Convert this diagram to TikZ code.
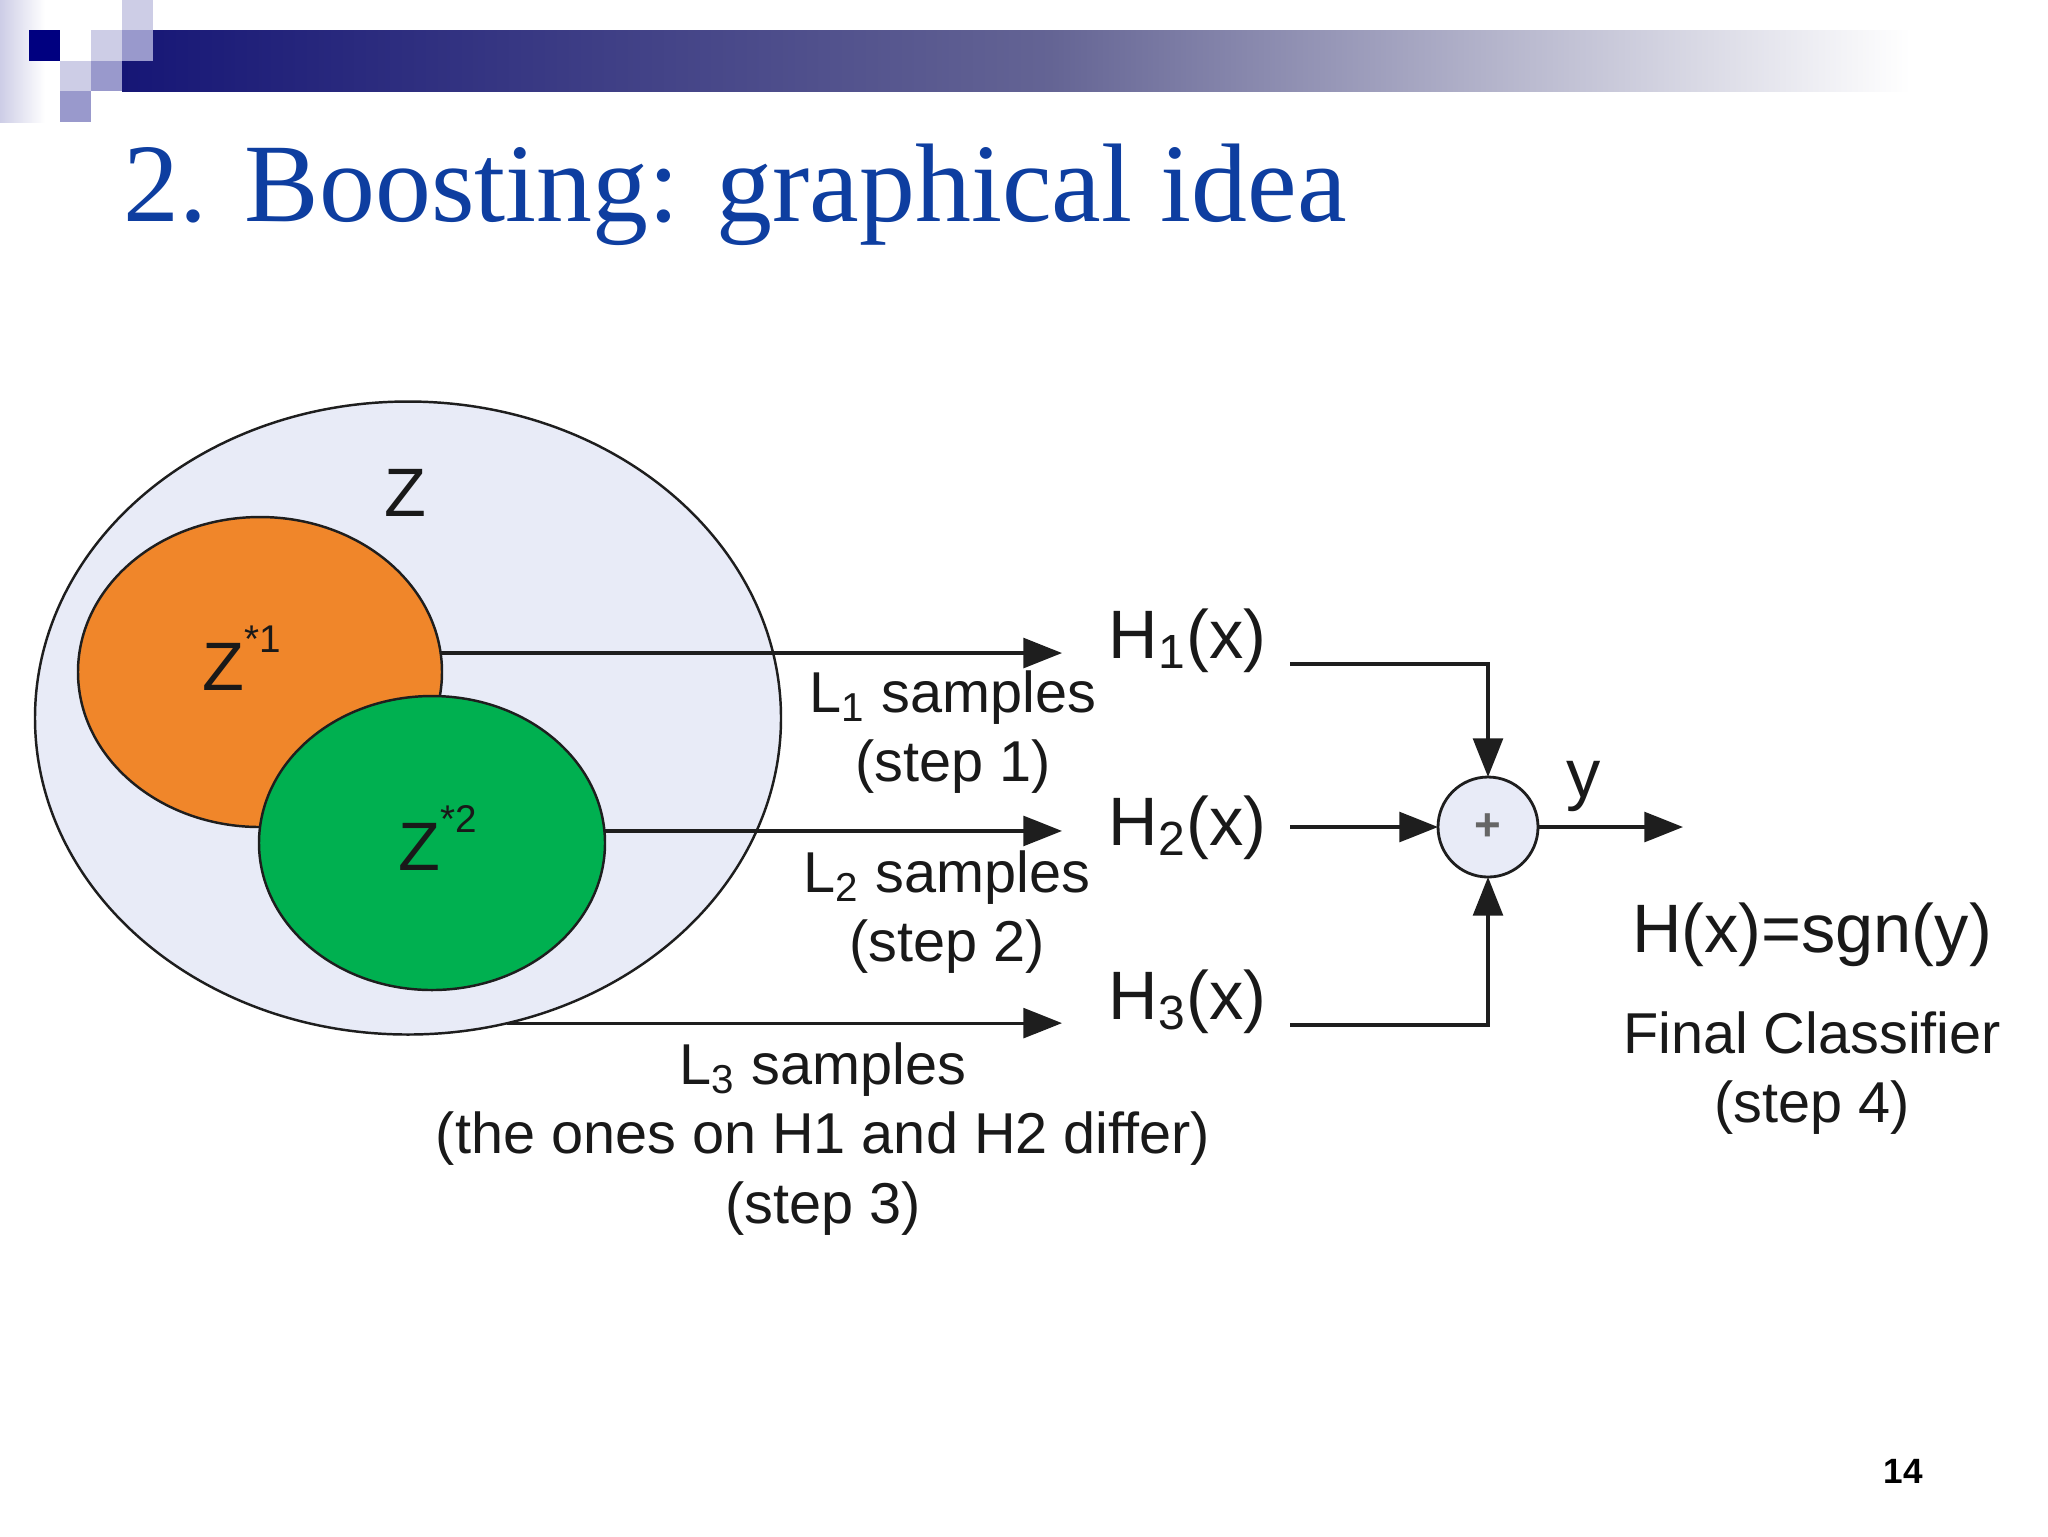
\documentclass[tikz,border=0pt]{standalone}
\usepackage{fontspec}
\setmainfont{Liberation Sans}
\newfontfamily\titlefont{Liberation Serif}
\usepackage{tikz}
\usetikzlibrary{arrows.meta,shapes,positioning}
\usepackage{xcolor}
\definecolor{bnavy}{RGB}{0,0,128}
\definecolor{bbarmid}{RGB}{100,100,148}
\definecolor{bbarleft}{RGB}{22,22,118}
\definecolor{blight}{RGB}{205,205,230}
\definecolor{bmedium}{RGB}{153,153,204}
\definecolor{btitle}{RGB}{14,62,160}
\definecolor{blavender}{RGB}{232,235,247}
\definecolor{borange}{RGB}{240,134,42}
\definecolor{bgreen}{RGB}{0,176,80}
\definecolor{bline}{RGB}{30,30,30}
\definecolor{btext}{RGB}{25,25,25}
\newcommand{\zsup}[1]{\raisebox{0.55em}{\fontsize{11}{11}\selectfont #1}}
\tikzstyle{region} = [ellipse, draw=bline, line width=0.7pt, inner sep=0pt, outer sep=0pt]
\tikzstyle{sumnode} = [circle, draw=bline, fill=blavender, line width=0.8pt, minimum size=10mm, inner sep=0pt, outer sep=0pt]
\tikzstyle{arrow} = [line width=0.9pt, draw=bline, -{Triangle[length=11pt,width=8.5pt]}]
\tikzstyle{hlabel} = [font=\fontsize{19.5}{23}\selectfont, text=btext, inner sep=0pt]
\tikzstyle{steptext} = [font=\fontsize{16.4}{19.8}\selectfont, text=btext, align=center, inner sep=0pt]

\begin{document}
\begin{tikzpicture}[x=0.1mm,y=-0.1mm]
\fill[white] (0,0) rectangle (2048,1536);
\useasboundingbox (0,0) rectangle (2048,1536);

% Slide decoration
\shade[left color=blight, right color=white] (0,0) rectangle (45,122);
\shade[left color=bbarleft, right color=bbarmid] (122,30) rectangle (1050,91);
\shade[left color=bbarmid, right color=white] (1050,30) rectangle (1910,91);
\fill[bnavy] (29,30) rectangle (60,61);
\fill[blight] (122,0) rectangle (153,30);
\fill[blight] (91,30) rectangle (122,61);
\fill[blight] (60,61) rectangle (91,91);
\fill[bmedium] (122,30) rectangle (153,61);
\fill[bmedium] (91,61) rectangle (122,91);
\fill[bmedium] (60,91) rectangle (91,122);

% Title
\node[anchor=base west, inner sep=0pt, text=btitle, font=\titlefont\fontsize{31.8}{38}\selectfont] (title) at (123,221) {2. Boosting: graphical idea};

% Sample sets
\node[region, fill=blavender, minimum width=74.6mm, minimum height=63.3mm] (Zall) at (408,718) {};
\node[region, fill=borange, minimum width=36.4mm, minimum height=31mm] (Zone) at (260,672) {};
\node[region, fill=bgreen, minimum width=34.6mm, minimum height=29.4mm] (Ztwo) at (432,843) {};
\node[hlabel, anchor=base] (zlab) at (405,516) {Z};
\node[hlabel, anchor=base west] (zonelab) at (202,690) {Z\zsup{*1}};
\node[hlabel, anchor=base west] (ztwolab) at (398,870) {Z\zsup{*2}};

% Weak classifiers
\node[hlabel, anchor=base west] (h1) at (1108,658) {H\textsubscript{1}(x)};
\node[hlabel, anchor=base west] (h2) at (1108,845) {H\textsubscript{2}(x)};
\node[hlabel, anchor=base west] (h3) at (1108,1019) {H\textsubscript{3}(x)};
\coordinate (tips) at (1062,0);

% Sum and final classifier
\node[sumnode] (sum) at (1488,827) {\textcolor{black!60}{\fontsize{13}{13}\selectfont\bfseries +}};
\coordinate (o1) at (1290,664);
\coordinate (o2) at (1290,827);
\coordinate (o3) at (1290,1025);
\coordinate (yend) at (1683,827);
\node[hlabel, anchor=base] (ylab) at (1584,797) {y};
\node[hlabel, anchor=base] (final) at (1812,952) {H(x)=sgn(y)};
\node[steptext] (step4) at (1812,1073) {Final Classifier\\(step 4)};

% Step labels
\node[steptext] (step1) at (953,732) {L\textsubscript{1} samples\\(step 1)};
\node[steptext] (step2) at (947,912) {L\textsubscript{2} samples\\(step 2)};
\node[steptext] (step3) at (823,1139) {L\textsubscript{3} samples\\(the ones on H1 and H2 differ)\\(step 3)};

% Arrows
\draw[arrow] (Zone.6) -- (Zone.6 -| tips);
\draw[arrow] (Ztwo.4) -- (Ztwo.4 -| tips);
\draw[arrow] (Zall.-72) -- (Zall.-72 -| tips);
\draw[arrow] (o1) -| (sum.north);
\draw[arrow] (o2) -- (sum.west);
\draw[arrow] (o3) -| (sum.south);
\draw[arrow] (sum.east) -- (yend);

% Page number
\node[font=\bfseries\fontsize{10}{12}\selectfont, inner sep=0pt] (page) at (1903,1471) {14};
\end{tikzpicture}
\end{document}
